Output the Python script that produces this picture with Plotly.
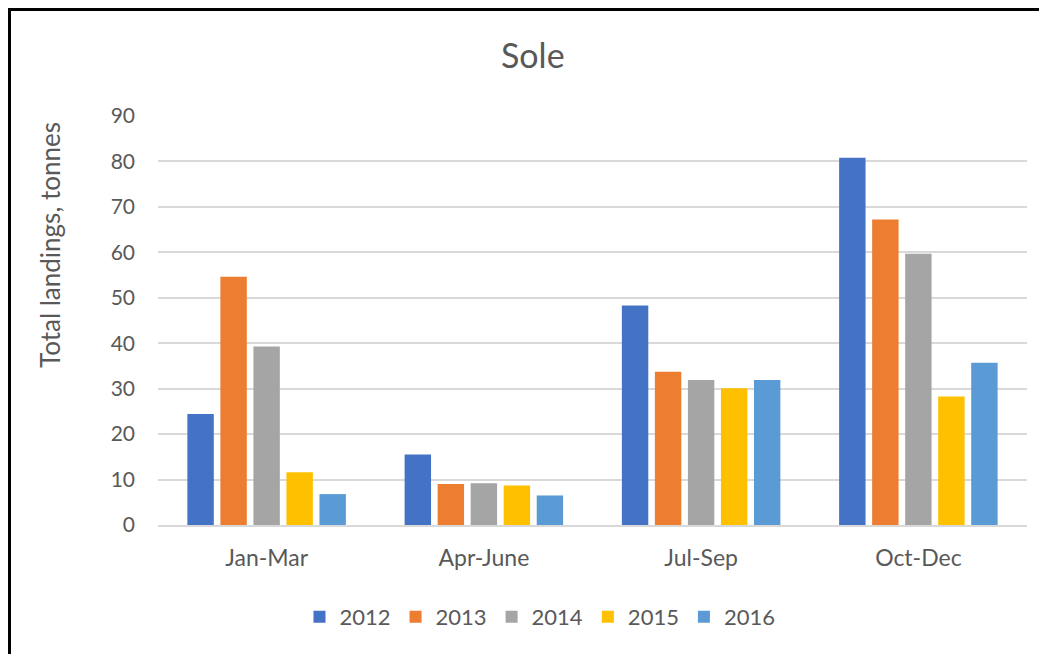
import plotly.graph_objects as go

categories = ["Jan-Mar", "Apr-June", "Jul-Sep", "Oct-Dec"]
years = ["2012", "2013", "2014", "2015", "2016"]
v2012 = [24.4, 15.5, 48.3, 80.8]
v2013 = [54.6, 9.0, 33.7, 67.2]
v2014 = [39.3, 9.2, 31.9, 59.7]
v2015 = [11.6, 8.7, 30.1, 28.3]
v2016 = [6.8, 6.5, 31.9, 35.7]
colors = ["#4472C4", "#ED7D31", "#A5A5A5", "#FFC000", "#5B9BD5"]

series = [v2012, v2013, v2014, v2015, v2016]

# page has an 8px body margin: targets are screen pixels, shifted by OFF
OFF = 8
W, H = 1047, 654
ML, MR, MT, MB = 158 - OFF, 28, 116 - OFF, 137
PW, PH = W - ML - MR, H - MT - MB


def px(x):
    return (x - OFF - ML) / PW


def py(y):
    return (H - MB - (y - OFF)) / PH


FONT = "Lato"
GREY = "#595959"

fig = go.Figure()
for name, vals, c in zip(years, series, colors):
    fig.add_trace(go.Bar(x=categories, y=vals, name=name, marker_color=c,
                         marker_line_width=0))

fig.update_layout(
    width=W, height=H,
    margin=dict(l=ML, r=MR, t=MT, b=MB, autoexpand=False),
    paper_bgcolor="white", plot_bgcolor="white",
    barmode="group", bargap=0.24, bargroupgap=0.2,
    font=dict(family=FONT, color=GREY, size=21),
    showlegend=True,
    legend=dict(orientation="h", x=px(540), xanchor="center",
                y=py(617), yanchor="middle",
                font=dict(family=FONT, size=22, color=GREY),
                itemsizing="constant", traceorder="normal"),
    xaxis=dict(showgrid=False, showline=True, linecolor="#D9D9D9", linewidth=1.5,
               ticks="", ticklabelstandoff=12,
               tickfont=dict(family=FONT, size=23, color=GREY)),
    yaxis=dict(range=[0, 90], dtick=10, showgrid=True, gridcolor="#D9D9D9",
               gridwidth=1.5, zeroline=False, showline=False, ticks="",
               ticklabelstandoff=22,
               tickfont=dict(family=FONT, size=21, color=GREY)),
    annotations=[
        dict(text="Sole", x=px(533), y=py(55), xref="paper", yref="paper",
             xanchor="center", yanchor="middle", showarrow=False,
             font=dict(family=FONT, size=34, color=GREY)),
        dict(text="Total landings, tonnes", x=px(50), y=py(245),
             xref="paper", yref="paper", xanchor="center", yanchor="middle",
             textangle=-90, showarrow=False,
             font=dict(family=FONT, size=26, color=GREY)),
    ],
    shapes=[
        dict(type="rect", xref="paper", yref="paper",
             x0=px(9.5), x1=px(1070), y0=py(680), y1=py(9.5),
             line=dict(color="black", width=3), fillcolor="rgba(0,0,0,0)",
             layer="above"),
    ],
)

fig.write_html("out.html")
